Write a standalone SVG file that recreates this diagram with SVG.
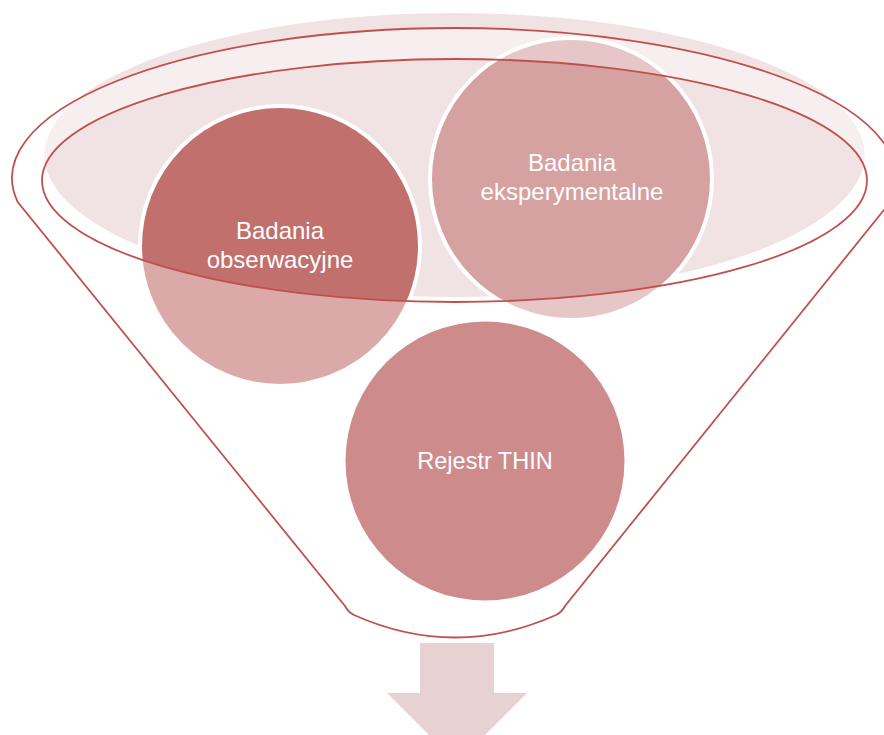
<svg xmlns="http://www.w3.org/2000/svg" width="884" height="735" viewBox="0 0 884 735">
<defs>
<style>
.circ{stroke:#FFFFFF;stroke-width:4}
.lbl{font-family:"Liberation Sans",Arial,sans-serif;font-size:24px;fill:#FFFFFF;text-anchor:middle}
.line{fill:none;stroke:#C0504D;stroke-width:1.8}
</style>
</defs>
<rect width="884" height="735" fill="#FFFFFF"/>
<g id="funnel-fill">
<ellipse cx="454.5" cy="155" rx="410" ry="142" fill="#F1E3E4"/>
</g>
<g id="node-obserwacyjne">
<circle class="circ" cx="280" cy="246" r="140" fill="#C1706E"/>
</g>
<g id="node-eksperymentalne">
<circle class="circ" cx="571" cy="179" r="141" fill="#D5A1A1"/>
</g>
<g id="node-thin">
<circle cx="485" cy="461" r="139.5" fill="#AD3F3F"/>
</g>
<g id="funnel-veil">
<path fill="#FFFFFF" fill-opacity="0.4" fill-rule="evenodd" d="M 17.7 202 A 442 150 0 1 1 890.3 202 L 565 606 Q 562 612 556 615 Q 455 660 354 615 Q 348 612 345 606 Z M 42 180.5 A 412.5 121.5 0 1 0 867 180.5 A 412.5 121.5 0 1 0 42 180.5 Z"/>
</g>
<g id="labels">
<text class="lbl" x="280" y="239">Badania</text>
<text class="lbl" x="280" y="268">obserwacyjne</text>
<text class="lbl" x="572" y="171">Badania</text>
<text class="lbl" x="572" y="200">eksperymentalne</text>
<text class="lbl" x="485" y="469" style="font-size:23.5px">Rejestr THIN</text>
</g>
<g id="funnel-outline">
<path class="line" d="M 17.7 202 A 442 150 0 1 1 890.3 202 L 565 606 Q 562 612 556 615 Q 455 660 354 615 Q 348 612 345 606 Z"/>
<ellipse class="line" cx="454.5" cy="180.5" rx="412.5" ry="121.5"/>
</g>
<g id="connectors">
<path d="M 420 643 H 494 V 693 H 527 L 457 763 L 387 693 H 420 Z" fill="#E8D1D3"/>
</g>
</svg>
